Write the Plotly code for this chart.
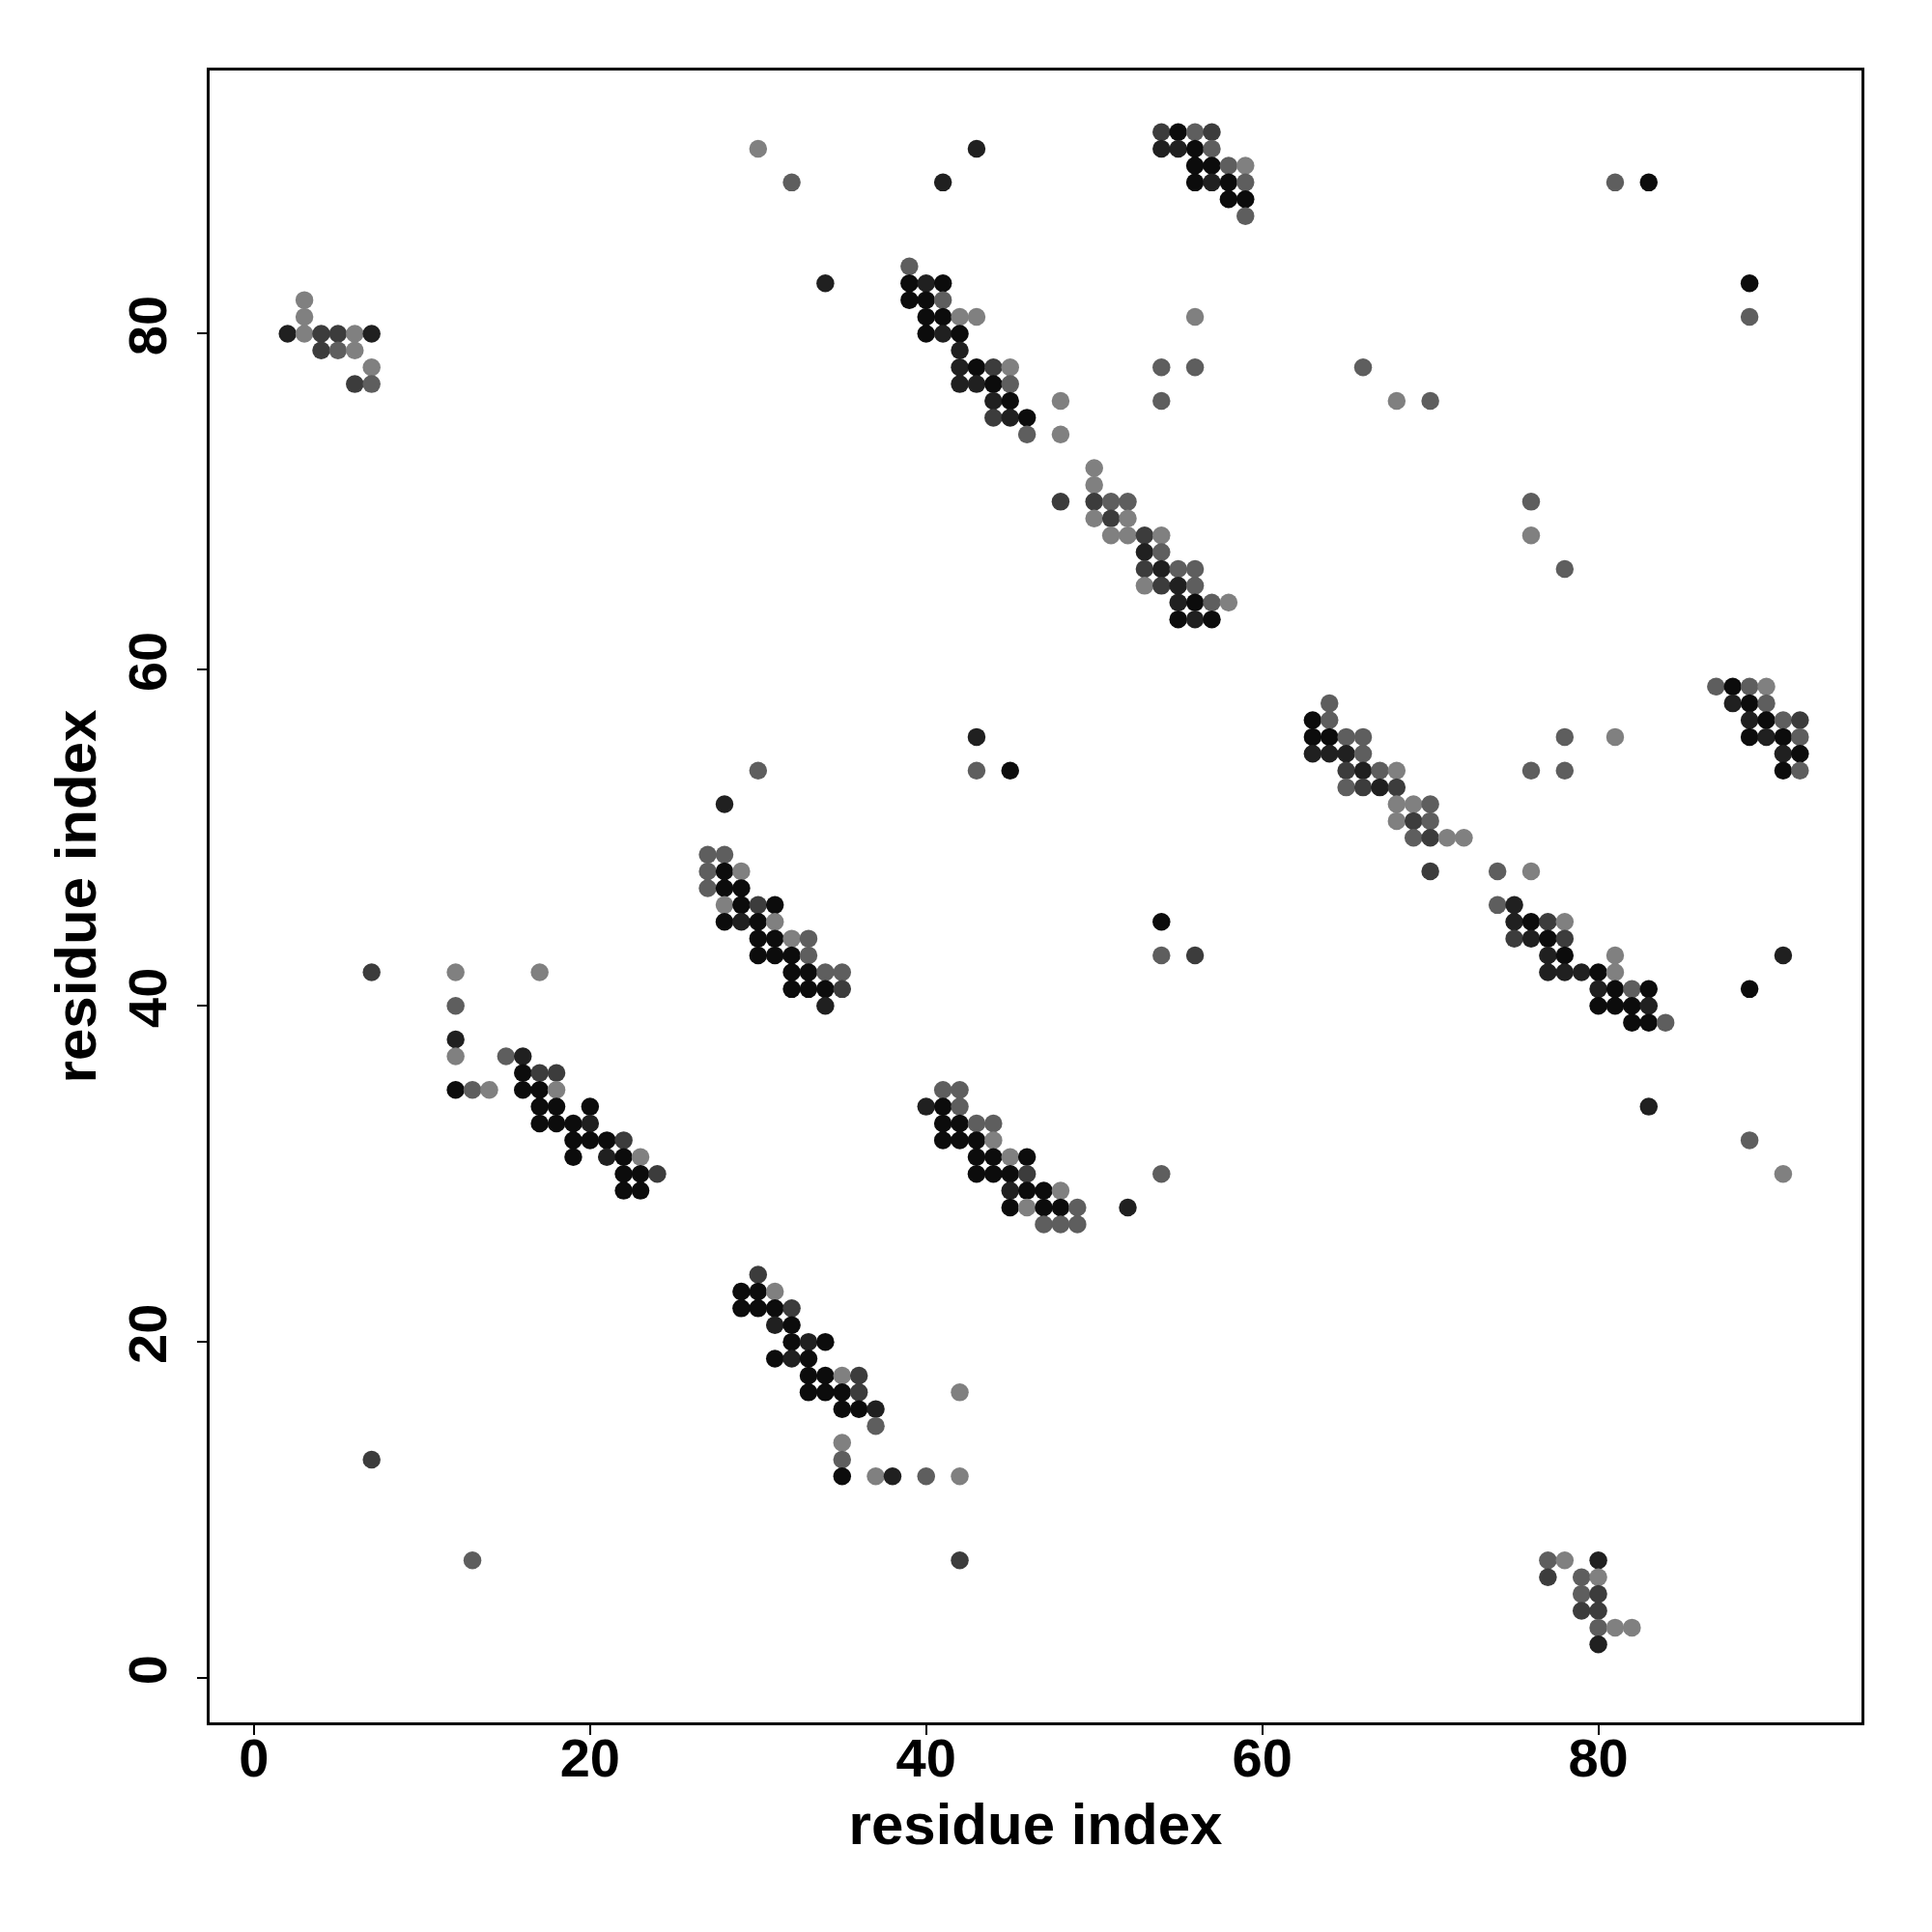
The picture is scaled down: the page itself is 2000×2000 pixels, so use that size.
import plotly.graph_objects as go

# residue pairs (i, j) and shade level (1 = darkest ... 5 = lightest)
res_i = [
    # cluster near (5, 80)
    3, 3, 2, 3, 4, 5, 6, 7, 4, 5, 6, 7, 6, 7,
    # cluster near (18, 35)
    12, 17, 12, 12, 12, 15, 16, 16, 17, 18, 12, 13, 14, 16, 17, 18, 17, 18, 20, 17, 18, 19, 20,
    19, 20, 21, 22, 19, 21, 22, 23, 22, 23, 24, 22, 23,
    # cluster near (30, 45)
    30, 28, 27, 28, 27, 28, 29, 27, 28, 29, 28, 29, 30, 31, 28, 29, 30, 31, 30, 31, 32, 33,
    30, 31, 32, 33, 32, 33, 34, 35, 32, 33, 34, 35, 34,
    # cluster near (33, 18)
    30, 29, 30, 31, 29, 30, 31, 32, 31, 32, 32, 33, 34, 31, 32, 33, 33, 34, 35, 36, 33, 34, 35, 36,
    42, 35, 36, 37, 37, 35, 35, 35, 37, 38, 40, 42, 42,
    # cluster near (43, 79)
    39, 39, 40, 41, 39, 40, 41, 40, 41, 42, 43, 40, 41, 42, 42, 42, 43, 44, 45, 42, 43, 44, 45,
    44, 45, 48, 44, 45, 46, 46, 48,
    # cluster near (53, 67)
    50, 50, 48, 50, 51, 52, 50, 51, 52, 51, 52, 53, 54, 53, 54, 53, 54, 55, 56, 53, 54, 55, 56,
    55, 56, 57, 58, 55, 56, 57,
    # cluster near (44, 31)
    41, 42, 40, 41, 42, 41, 42, 43, 44, 41, 42, 43, 44, 43, 44, 45, 46, 43, 44, 45, 46,
    45, 46, 47, 48, 45, 46, 47, 48, 49, 52, 47, 48, 49, 54,
    # cluster near (56, 90)
    54, 55, 56, 57, 54, 55, 56, 57, 56, 57, 58, 59, 56, 57, 58, 59, 58, 59, 59,
    # cluster near (66, 54)
    64, 63, 64, 63, 64, 65, 66, 63, 64, 65, 66, 65, 66, 67, 68, 65, 66, 67, 68,
    68, 69, 70, 68, 69, 70, 69, 70, 71, 72, 70,
    # cluster near (79, 43)
    74, 76, 74, 75, 75, 76, 77, 78, 75, 76, 77, 78, 77, 78, 81, 77, 78, 79, 80, 81,
    80, 81, 82, 83, 80, 81, 82, 83, 82, 83, 84,
    # cluster near (90, 57)
    87, 88, 89, 90, 88, 89, 90, 89, 90, 91, 92, 89, 90, 91, 92, 91, 92, 91, 92,
    # cluster near (79, 5)
    77, 78, 80, 77, 79, 80, 79, 80, 79, 80, 80, 81, 82, 80,
    # scattered contacts
    7, 7, 13, 30, 32, 34, 41, 43, 54, 54, 56, 56, 66, 68, 70, 76, 76, 78, 81, 83, 89, 89,
    43, 43, 45, 54, 54, 56, 76, 78, 78, 81, 89, 91, 83, 89, 91,
]

res_j = [
    82, 81, 80, 80, 80, 80, 80, 80, 79, 79, 79, 78, 77, 77,
    42, 42, 40, 38, 37, 37, 37, 36, 36, 36, 35, 35, 35, 35, 35, 35, 34, 34, 34, 33, 33, 33, 33,
    32, 32, 32, 32, 31, 31, 31, 31, 30, 30, 30, 29, 29,
    54, 52, 49, 49, 48, 48, 48, 47, 47, 47, 46, 46, 46, 46, 45, 45, 45, 45, 44, 44, 44, 44,
    43, 43, 43, 43, 42, 42, 42, 42, 41, 41, 41, 41, 40,
    24, 23, 23, 23, 22, 22, 22, 22, 21, 21, 20, 20, 20, 19, 19, 19, 18, 18, 18, 18, 17, 17, 17, 17,
    17, 16, 16, 16, 15, 14, 13, 12, 12, 12, 12, 12, 7,
    84, 83, 83, 83, 82, 82, 82, 81, 81, 81, 81, 80, 80, 80, 79, 78, 78, 78, 78, 77, 77, 77, 77,
    76, 76, 76, 75, 75, 75, 74, 74,
    72, 71, 70, 70, 70, 70, 69, 69, 69, 68, 68, 68, 68, 67, 67, 66, 66, 66, 66, 65, 65, 65, 65,
    64, 64, 64, 64, 63, 63, 63,
    35, 35, 34, 34, 34, 33, 33, 33, 33, 32, 32, 32, 32, 31, 31, 31, 31, 30, 30, 30, 30,
    29, 29, 29, 29, 28, 28, 28, 28, 28, 28, 27, 27, 27, 30,
    92, 92, 92, 92, 91, 91, 91, 91, 90, 90, 90, 90, 89, 89, 89, 89, 88, 88, 87,
    58, 57, 57, 56, 56, 56, 56, 55, 55, 55, 55, 54, 54, 54, 54, 53, 53, 53, 53,
    52, 52, 52, 51, 51, 51, 50, 50, 50, 50, 48,
    48, 48, 46, 46, 45, 45, 45, 45, 44, 44, 44, 44, 43, 43, 43, 42, 42, 42, 42, 42,
    41, 41, 41, 41, 40, 40, 40, 40, 39, 39, 39,
    59, 59, 59, 59, 58, 58, 58, 57, 57, 57, 57, 56, 56, 56, 56, 55, 55, 54, 54,
    7, 7, 7, 6, 6, 6, 5, 5, 4, 4, 3, 3, 3, 2,
    42, 13, 7, 91, 89, 83, 89, 91, 78, 76, 81, 78, 78, 76, 76, 70, 68, 66, 89, 89, 83, 81,
    56, 54, 54, 45, 43, 43, 54, 56, 54, 56, 41, 43, 34, 32, 30,
]

shade = [
    5, 5, 2, 5, 3, 3, 5, 2, 3, 4, 5, 5, 3, 4,
    5, 5, 4, 2, 5, 4, 2, 1, 3, 3, 1, 4, 5, 1, 1, 5, 1, 1, 1, 1, 1, 1, 2,
    1, 1, 1, 3, 1, 2, 1, 5, 1, 1, 3, 1, 1,
    4, 2, 4, 4, 4, 1, 5, 4, 1, 1, 5, 1, 3, 1, 1, 2, 1, 5, 1, 1, 5, 4,
    1, 1, 1, 4, 1, 1, 4, 4, 1, 1, 1, 3, 2,
    3, 1, 1, 5, 1, 1, 1, 3, 2, 1, 1, 2, 1, 1, 2, 1, 1, 1, 5, 3, 1, 1, 1, 3,
    5, 1, 1, 2, 4, 5, 4, 1, 5, 2, 4, 5, 3,
    4, 1, 2, 1, 1, 1, 4, 1, 1, 5, 5, 1, 2, 1, 2, 2, 1, 3, 5, 2, 2, 1, 4,
    2, 1, 5, 3, 2, 1, 4, 5,
    5, 5, 3, 3, 4, 4, 5, 3, 5, 5, 5, 3, 5, 2, 4, 3, 2, 4, 4, 5, 3, 2, 4,
    2, 1, 4, 5, 1, 2, 1,
    4, 4, 2, 1, 4, 1, 1, 4, 4, 1, 1, 1, 5, 1, 1, 5, 1, 1, 1, 1, 3,
    2, 1, 1, 5, 1, 5, 1, 1, 4, 2, 4, 4, 4, 4,
    3, 1, 4, 3, 2, 2, 1, 4, 1, 1, 4, 5, 1, 2, 1, 4, 1, 1, 4,
    4, 1, 4, 1, 1, 4, 4, 2, 2, 2, 4, 3, 2, 4, 5, 4, 3, 2, 3,
    5, 5, 4, 5, 3, 4, 4, 3, 5, 5, 3,
    4, 5, 4, 2, 2, 1, 3, 5, 3, 2, 1, 3, 2, 1, 5, 2, 2, 2, 1, 5,
    2, 1, 4, 1, 1, 1, 1, 2, 1, 1, 4,
    4, 1, 4, 5, 2, 1, 4, 2, 1, 4, 3, 1, 2, 1, 4, 2, 1, 1, 4,
    4, 5, 2, 3, 4, 5, 4, 3, 3, 3, 4, 5, 5, 2,
    3, 3, 4, 5, 4, 2, 2, 2, 4, 4, 5, 4, 4, 5, 4, 4, 5, 4, 4, 1, 1, 4,
    2, 4, 1, 1, 4, 3, 4, 4, 4, 5, 1, 2, 2, 4, 5,
]

x_ticks = [0, 20, 40, 60, 80]
y_ticks = [0, 20, 40, 60, 80]
x_label = "residue index"
y_label = "residue index"

gray_of_level = {1: "#0c0c0c", 2: "#202020", 3: "#3c3c3c", 4: "#5e5e5e", 5: "#808080"}
colors = [gray_of_level[s] for s in shade]

fig = go.Figure(
    go.Scatter(
        x=res_i,
        y=res_j,
        mode="markers",
        marker=dict(size=18.5, color=colors, line=dict(width=0)),
        hoverinfo="x+y",
    )
)

tick_font = dict(family="Liberation Sans", size=56, color="black", weight="bold")
title_font = dict(family="Liberation Sans", size=60, color="black", weight="bold")

common_axis = dict(
    showgrid=False,
    zeroline=False,
    showline=True,
    mirror=True,
    linecolor="black",
    linewidth=2.5,
    ticks="outside",
    ticklen=10,
    tickwidth=2,
    tickcolor="black",
    tickfont=tick_font,
)

fig.update_xaxes(
    range=[-2.64, 95.66],
    tickvals=x_ticks,
    ticktext=[str(v) for v in x_ticks],
    title=dict(text=x_label, font=title_font, standoff=18),
    ticklabelstandoff=-24,
    **common_axis,
)
fig.update_yaxes(
    range=[-2.64, 95.66],
    tickvals=y_ticks,
    ticktext=[str(v) for v in y_ticks],
    tickangle=-90,
    title=dict(text=y_label, font=title_font, standoff=2),
    ticklabelstandoff=10,
    **common_axis,
)

fig.update_layout(
    width=2000,
    height=2000,
    margin=dict(l=209, r=81, t=65, b=225),
    plot_bgcolor="white",
    paper_bgcolor="white",
    showlegend=False,
)

fig.write_html("out.html")
